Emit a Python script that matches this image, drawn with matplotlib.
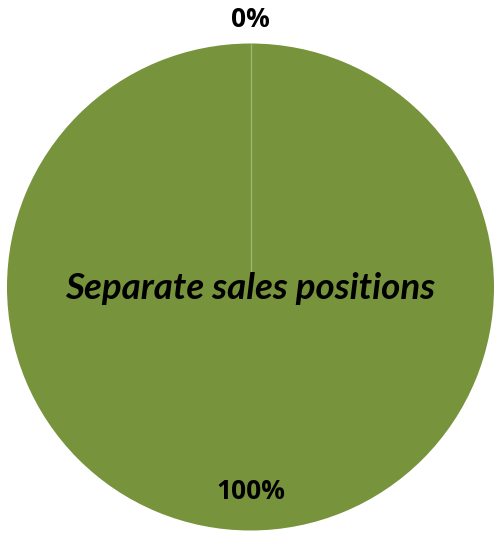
import numpy as np
import matplotlib
matplotlib.use("Agg")
import matplotlib.pyplot as plt

categories = ["Other", "Separate sales positions"]
shares = [0, 100]
slice_colors = ["#77933C", "#77933C"]

W, H = 501, 541
fig = plt.figure(figsize=(W / 100, H / 100), dpi=100)
fig.patch.set_facecolor("white")

# pie occupies a square region: centre (250, 287) px from top-left, radius ~243.5 px
cx, cy, r = 250.5, 287, 243.5
ax = fig.add_axes([(cx - r) / W, (H - cy - r) / H, 2 * r / W, 2 * r / H])
wedges, _ = ax.pie(
    shares,
    colors=slice_colors,
    startangle=90,
    counterclock=False,
    radius=1.0,
    wedgeprops=dict(edgecolor="none", linewidth=0),
)
ax.set_xlim(-1, 1)
ax.set_ylim(-1, 1)
ax.set_aspect("equal")
ax.axis("off")

# thin light separator along each slice boundary
for w in wedges:
    a = np.deg2rad(w.theta1)
    ax.plot([0, w.r * np.cos(a)], [0, w.r * np.sin(a)], color="#9cb56c",
            linewidth=0.9, solid_capstyle="butt")

# value labels: small slice outside the rim, large slice inside near the rim
total = sum(shares)
label_dist = [1.097, 0.84]
for w, v, d in zip(wedges, shares, label_dist):
    mid = np.deg2rad((w.theta1 + w.theta2) / 2)
    ax.text(d * np.cos(mid), d * np.sin(mid), f"{v / total:.0%}",
            ha="center", va="center", fontsize=19, fontweight="bold",
            family="Open Sans", color="black")

ax.text(0, -0.005, categories[1], ha="center", va="center", fontsize=26.5,
        fontweight="bold", fontstyle="italic", family="Lato", color="black")

fig.savefig("out.png", dpi=100)
